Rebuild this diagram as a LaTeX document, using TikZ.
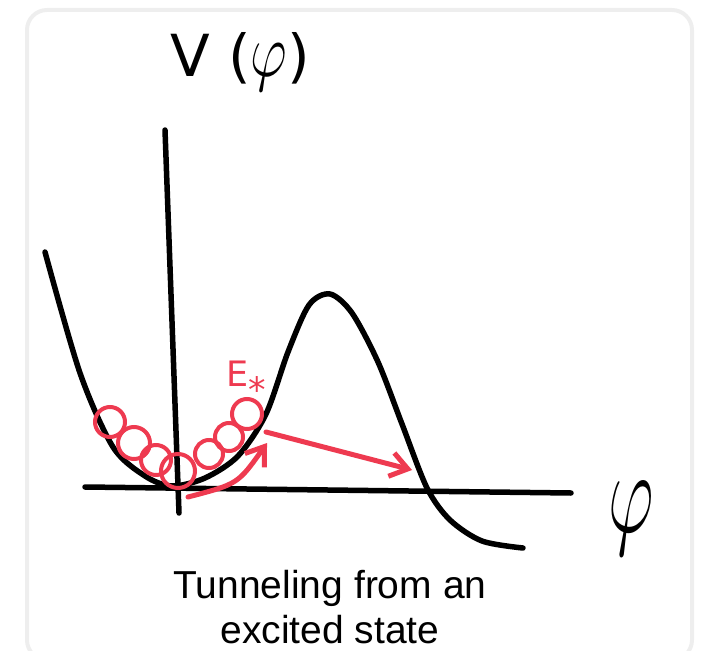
\RequirePackage{fix-cm}
\documentclass[tikz,border=0pt]{standalone}
\usepackage{fontspec}
\setmainfont{Liberation Sans}
\newfontfamily\sketchfont{DejaVu Sans}
\definecolor{sketchred}{RGB}{238, 58, 80}
\definecolor{cardgray}{RGB}{238, 238, 238}
\usepackage{tikz}
\usetikzlibrary{arrows.meta, calc}
\tikzset{
    cardframe/.style={draw=cardgray, line width=4pt, rounded corners=20pt},
    axisline/.style={draw=black, line width=5.5pt, line cap=round},
    potential/.style={draw=black, line width=5.5pt, line cap=round, line join=round},
    statering/.style={draw=sketchred, line width=4pt, circle, inner sep=0pt},
    tunnelarrow/.style={draw=sketchred, line width=5pt, line cap=round, -{Straight Barb[length=17pt, width=24pt]}},
    handlabel/.style={inner sep=0pt},
    captionline/.style={font=\fontsize{39}{45}\selectfont, inner sep=0pt, anchor=base},
}
\newcommand{\handphi}[2]{\scalebox{#2}[1]{\fontsize{#1}{#1}\selectfont$\varphi$}}

\begin{document}
\begin{tikzpicture}[x=1pt, y=-1pt]
    \useasboundingbox (0,0) rectangle (706,650);
    % card
    \draw[cardframe] (27,10) rectangle (692,660);

    % axes
    \coordinate (yTop) at (165,130);
    \coordinate (yBot) at (179,513);
    \coordinate (xLeft) at (85,487);
    \coordinate (xRight) at (571,493);
    \draw[axisline] (yTop) -- (yBot);
    \draw[axisline] (xLeft) -- (xRight);
    \node[handlabel, font=\sketchfont\fontsize{58}{58}\selectfont] (vlabel) at (240,62) {V (\handphi{76}{0.75})};
    \node[handlabel] (philabel) at (631,519) {\handphi{118}{0.6}};

    % potential with false vacuum
    \draw[potential] plot[smooth, tension=0.5] coordinates {
        (45,252) (80,373) (113,447) (145,476) (172,486) (205,478) (238,456)
        (266,414) (288,352) (309,305) (330,294) (352,313) (378,362) (402,424)
        (427,488) (450,520) (482,541) (523,548)};

    % excited states
    \node[statering, minimum size=30pt] (ring1) at (110,422) {};
    \node[statering, minimum size=32pt] (ring2) at (134,443) {};
    \node[statering, minimum size=30pt] (ring3) at (156,460) {};
    \node[statering, minimum size=34pt] (ring4) at (178,471) {};
    \node[statering, minimum size=28pt] (ring5) at (209,454) {};
    \node[statering, minimum size=28pt] (ring6) at (229,437) {};
    \node[statering, minimum size=30pt] (ring7) at (247,414) {};
    \node[handlabel, text=sketchred, font=\sketchfont\fontsize{35}{35}\selectfont, anchor=base west] (estar) at (226,386) {E\raisebox{-16pt}{*}};

    % excitation and tunneling
    \coordinate (kickStart) at (188,497);
    \coordinate (kickEnd) at (267,443);
    \coordinate (tunnelStart) at (266,432);
    \coordinate (tunnelEnd) at (412,470);
    \draw[tunnelarrow] (kickStart) .. controls (238,484) .. (kickEnd);
    \draw[tunnelarrow] (tunnelStart) -- (tunnelEnd);

    % caption
    \node[captionline] (capA) at (330,598) {Tunneling from an};
    \node[captionline] (capB) at (330,643) {excited state};
\end{tikzpicture}
\end{document}
